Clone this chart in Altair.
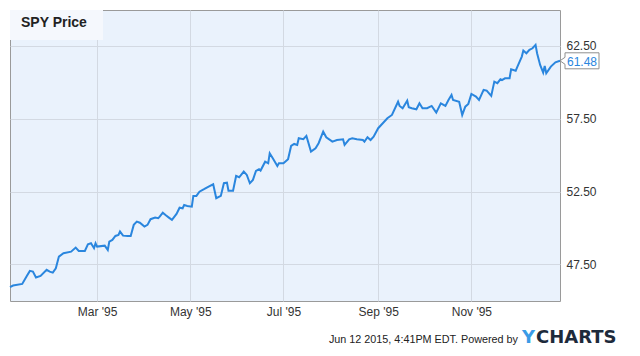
import altair as alt
import pandas as pd

# ---- data (SPY daily-ish closes, 1995) ----
dates = [
    "1995-01-03", "1995-01-05", "1995-01-11", "1995-01-14", "1995-01-16", "1995-01-18",
    "1995-01-20", "1995-01-23", "1995-01-27", "1995-01-29", "1995-01-31",
    "1995-02-02", "1995-02-04", "1995-02-07", "1995-02-12", "1995-02-15", "1995-02-17",
    "1995-02-21", "1995-02-23", "1995-02-25", "1995-02-27", "1995-02-28",
    "1995-03-01", "1995-03-06", "1995-03-08", "1995-03-09", "1995-03-11", "1995-03-13",
    "1995-03-15", "1995-03-16", "1995-03-18", "1995-03-21", "1995-03-23", "1995-03-25",
    "1995-03-27", "1995-03-29",
    "1995-04-01", "1995-04-03", "1995-04-05", "1995-04-08", "1995-04-10", "1995-04-11",
    "1995-04-13", "1995-04-15", "1995-04-17", "1995-04-19", "1995-04-22", "1995-04-24",
    "1995-04-26", "1995-04-27", "1995-04-29",
    "1995-05-02", "1995-05-03", "1995-05-05", "1995-05-07", "1995-05-10", "1995-05-13",
    "1995-05-16", "1995-05-18", "1995-05-21", "1995-05-23", "1995-05-25", "1995-05-26",
    "1995-05-29", "1995-05-31",
    "1995-06-02", "1995-06-05", "1995-06-07", "1995-06-09", "1995-06-11", "1995-06-13",
    "1995-06-15", "1995-06-16", "1995-06-19", "1995-06-21", "1995-06-22", "1995-06-24",
    "1995-06-27", "1995-06-28",
    "1995-07-01", "1995-07-04", "1995-07-06", "1995-07-08", "1995-07-10", "1995-07-11",
    "1995-07-14", "1995-07-16", "1995-07-19", "1995-07-22", "1995-07-24", "1995-07-27",
    "1995-07-29",
    "1995-08-02", "1995-08-05", "1995-08-09", "1995-08-10", "1995-08-13", "1995-08-15",
    "1995-08-18", "1995-08-22", "1995-08-23", "1995-08-25", "1995-08-27", "1995-08-29",
    "1995-09-01", "1995-09-04", "1995-09-07", "1995-09-10", "1995-09-14", "1995-09-15",
    "1995-09-17", "1995-09-20", "1995-09-21", "1995-09-23", "1995-09-26", "1995-09-28",
    "1995-09-30",
    "1995-10-03", "1995-10-06", "1995-10-09", "1995-10-12", "1995-10-15", "1995-10-17",
    "1995-10-19", "1995-10-20", "1995-10-24", "1995-10-26", "1995-10-28", "1995-10-30",
    "1995-11-01", "1995-11-04", "1995-11-06", "1995-11-09", "1995-11-11", "1995-11-14",
    "1995-11-16", "1995-11-18", "1995-11-20", "1995-11-21", "1995-11-23", "1995-11-26",
    "1995-11-27", "1995-11-30",
    "1995-12-01", "1995-12-04", "1995-12-05", "1995-12-07", "1995-12-09", "1995-12-11",
    "1995-12-13", "1995-12-14", "1995-12-16", "1995-12-18", "1995-12-19", "1995-12-20",
    "1995-12-23", "1995-12-26", "1995-12-29",
]
prices = [
    45.93, 46.04, 46.15, 46.70, 47.05, 47.00, 46.59, 46.70, 47.12, 47.00, 46.93,
    47.23, 48.03, 48.26, 48.37, 48.65, 48.42, 48.42, 48.88, 48.95, 48.61, 48.95,
    48.72, 48.78, 48.49, 49.06, 49.18, 49.45, 49.52, 49.75, 49.47, 49.45, 49.45, 50.21,
    50.43, 50.36,
    50.09, 50.21, 50.60, 50.71, 50.67, 50.78, 51.05, 50.87, 50.71, 50.55, 50.96, 51.39,
    51.35, 51.58, 51.51,
    51.46, 52.20, 52.20, 52.49, 52.66, 52.84, 53.00, 52.04, 52.20, 53.07, 53.11, 52.56,
    52.56, 53.57,
    53.48, 53.87, 53.64, 53.07, 53.30, 53.91, 54.03, 53.94, 54.55, 54.44, 55.13, 54.79,
    54.26, 54.44,
    54.44, 54.72, 55.63, 55.77, 55.70, 56.16, 56.09, 56.32, 55.24, 55.47, 55.82, 56.61,
    56.23,
    55.93, 56.04, 56.09, 55.70, 56.09, 56.16, 56.09, 56.04, 55.93, 56.23, 56.04, 56.27,
    56.85, 57.19, 57.53, 57.76, 58.67, 58.38, 58.22, 58.74, 58.29, 58.22, 58.15, 58.56,
    58.22,
    58.22, 58.38, 57.92, 58.56, 58.38, 58.79, 59.13, 58.79, 58.67, 57.76, 58.33, 58.52,
    59.20, 59.02, 58.79, 59.48, 59.43, 59.07, 60.05, 59.94, 60.21, 60.16, 60.28, 60.28,
    60.90, 60.80,
    61.04, 61.77, 62.18, 62.00, 62.23, 62.34, 62.57, 62.00, 61.20, 60.67, 61.13, 60.62,
    61.08, 61.38, 61.48,
]
y_ticks = [47.5, 52.5, 57.5, 62.5]
x_tick_months = [3, 5, 7, 9, 11]
title_text = "SPY Price"
footer_text = "Jun 12 2015, 4:41PM EDT.  Powered by"

df = pd.DataFrame({"date": dates, "price": prices})
last = df.tail(1)

W, H = 550, 291
LINE = "#2a86de"

x_scale = alt.Scale(
    type="utc",
    domain=[alt.DateTime(year=1995, month=1, date=3, utc=True),
            alt.DateTime(year=1995, month=12, date=29, utc=True)],
    nice=False,
)
y_scale = alt.Scale(domain=[44.98, 64.97], nice=False, zero=False)

x_enc = alt.X(
    "date:T", scale=x_scale, title=None,
    axis=alt.Axis(
        values=[alt.DateTime(year=1995, month=m, date=1, utc=True) for m in x_tick_months],
        labelExpr="utcFormat(datum.value, \"%b '%y\")",
        grid=True, gridColor="#d3d9e2", ticks=False, domain=False,
        labelPadding=5, labelFontSize=12, labelFont="Liberation Sans",
        labelColor="#333333",
    ),
)
y_enc = alt.Y(
    "price:Q", scale=y_scale, title=None,
    axis=alt.Axis(
        orient="right", values=y_ticks, format=".2f",
        grid=True, gridColor="#d3d9e2", ticks=False, domain=False,
        labelPadding=6, labelFontSize=12, labelFont="Liberation Sans",
        labelColor="#333333",
    ),
)

base = alt.Chart(df)

title_box = alt.Chart(pd.DataFrame({"t": [title_text]})).mark_rect(
    color="#f5f8fd"
).encode(x=alt.value(0), x2=alt.value(93), y=alt.value(0), y2=alt.value(30))

title = alt.Chart(pd.DataFrame({"t": [title_text]})).mark_text(
    align="left", baseline="middle", fontSize=14, fontWeight="bold",
    font="Liberation Sans", color="#222222",
).encode(x=alt.value(11), y=alt.value(12.5), text="t:N")

line = base.mark_line(color=LINE, strokeWidth=2).encode(x=x_enc, y=y_enc)

tag = alt.Chart(last).mark_point(
    shape="M0 0 L0.5 -0.35 L0.5 -0.8 L3.9 -0.8 L3.9 0.8 L0.5 0.8 L0.5 0.35 Z",
    size=400, filled=True, fill="white", stroke="#8f8f8f", strokeWidth=1,
    opacity=1, fillOpacity=1,
).encode(x=alt.X("date:T", scale=x_scale), y=alt.Y("price:Q", scale=y_scale))

tag_text = alt.Chart(last).mark_text(
    align="center", baseline="middle", dx=22, dy=1, fontSize=12,
    font="Liberation Sans", color=LINE,
).encode(
    x=alt.X("date:T", scale=x_scale), y=alt.Y("price:Q", scale=y_scale),
    text=alt.Text("price:Q", format=".2f"),
)

footer = alt.Chart(pd.DataFrame({"t": [footer_text]})).mark_text(
    align="right", baseline="alphabetic", fontSize=10.8, font="Liberation Sans",
    color="#222222",
).encode(x=alt.value(508), y=alt.value(333), text="t:N")

logo_y = alt.Chart(pd.DataFrame({"t": ["Y"]})).mark_text(
    align="left", baseline="alphabetic", fontSize=18, fontWeight="bold",
    font="DejaVu Sans", color="#3b9be6",
).encode(x=alt.value(512), y=alt.value(333), text="t:N")

logo_rest = alt.Chart(pd.DataFrame({"t": ["CHARTS"]})).mark_text(
    align="left", baseline="alphabetic", fontSize=18, fontWeight="bold",
    font="DejaVu Sans", color="#1d2a3b",
).encode(x=alt.value(526), y=alt.value(333), text="t:N")

chart = alt.layer(
    title_box, line, title, tag, tag_text, footer, logo_y, logo_rest
).properties(
    width=W, height=H,
    autosize=alt.AutoSizeParams(type="none"),
    padding={"left": 2, "top": 2, "right": 72, "bottom": 47},
    background="white",
).configure_view(
    fill="#eaf2fc", stroke="#9a9a9a", strokeWidth=1,
)

chart.save("out.html", embed_options={"renderer": "svg", "actions": False})
